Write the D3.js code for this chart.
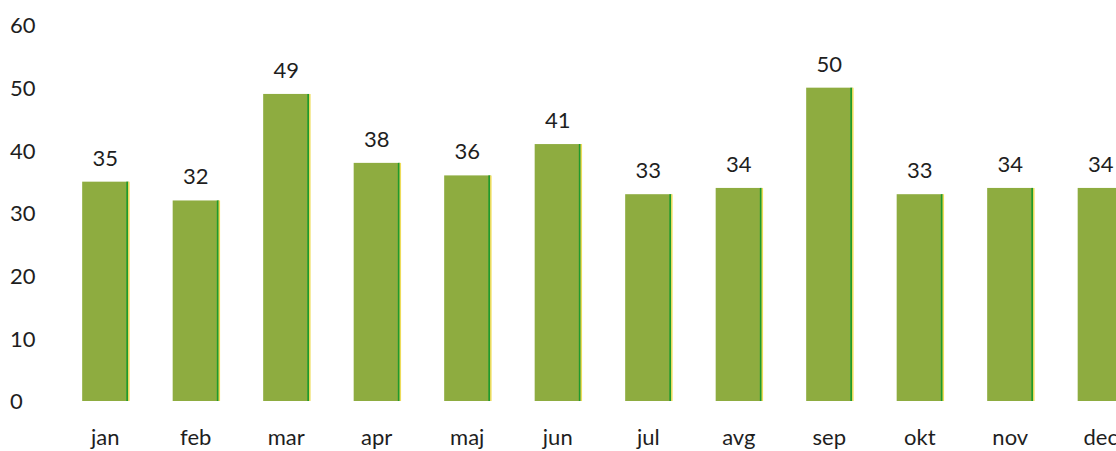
<!DOCTYPE html>
<html>
<head>
<meta charset="utf-8">
<script src="https://cdn.jsdelivr.net/npm/d3@7"></script>
<style>
  html, body { margin: 0; padding: 0; background: #fff; }
  svg { display: block; }
  text { font-family: Lato, "Open Sans", sans-serif; fill: #1e1e1e; }
</style>
</head>
<body>
<svg id="chart" width="1116" height="451"></svg>
<script>
const months = ["jan","feb","mar","apr","maj","jun","jul","avg","sep","okt","nov","dec"];
const values = [35, 32, 49, 38, 36, 41, 33, 34, 50, 33, 34, 34];
const yTicks = [0, 10, 20, 30, 40, 50, 60];

const svg = d3.select("#chart");

const x = d3.scaleBand()
  .domain(months)
  .range([60, 1146])
  .paddingInner(0.49)
  .paddingOuter(0.245);

const y = d3.scaleLinear()
  .domain([0, 60])
  .range([401, 25]);

// y tick labels
const yAxis = d3.axisLeft(y).tickValues(yTicks).tickSize(0).tickPadding(0);
const gy = svg.append("g").attr("transform", "translate(10,0)").call(yAxis);
gy.select(".domain").remove();
gy.selectAll("text")
  .attr("text-anchor", "start")
  .attr("x", 0)
  .attr("dy", "0.35em")
  .style("font-size", "22px")
  .style("font-family", "Lato, 'Open Sans', sans-serif")
  .style("fill", "#1e1e1e");

// bars
const bars = svg.append("g");
bars.selectAll("rect.bar")
  .data(months)
  .join("rect")
  .attr("class", "bar")
  .attr("x", d => x(d))
  .attr("y", (d, i) => y(values[i]))
  .attr("width", x.bandwidth())
  .attr("height", (d, i) => y(0) - y(values[i]))
  .attr("fill", "#8eac40");

// right-edge highlight lines (green + yellow fringe)
bars.selectAll("line.edge")
  .data(months)
  .join("line")
  .attr("class", "edge")
  .attr("x1", d => x(d) + x.bandwidth() - 1)
  .attr("x2", d => x(d) + x.bandwidth() - 1)
  .attr("y1", (d, i) => y(values[i]))
  .attr("y2", y(0))
  .attr("stroke", "#1f9a2c")
  .attr("stroke-width", 2);
bars.selectAll("line.fringe")
  .data(months)
  .join("line")
  .attr("class", "fringe")
  .attr("x1", d => x(d) + x.bandwidth() + 0.5)
  .attr("x2", d => x(d) + x.bandwidth() + 0.5)
  .attr("y1", (d, i) => y(values[i]))
  .attr("y2", y(0))
  .attr("stroke", "#eedc5a")
  .attr("stroke-width", 1.5);

// value labels
svg.append("g").selectAll("text")
  .data(months)
  .join("text")
  .attr("x", d => x(d) + x.bandwidth() / 2)
  .attr("y", (d, i) => y(values[i]) - 16)
  .attr("text-anchor", "middle")
  .style("font-size", "22px")
  .text((d, i) => values[i]);

// x axis labels
const xAxis = d3.axisBottom(x).tickSize(0).tickPadding(0);
const gx = svg.append("g").attr("transform", "translate(0,429)").call(xAxis);
gx.select(".domain").remove();
gx.selectAll("text")
  .attr("dy", "0.71em")
  .style("font-size", "22px")
  .style("font-family", "Lato, 'Open Sans', sans-serif")
  .style("fill", "#1e1e1e");
</script>
</body>
</html>
